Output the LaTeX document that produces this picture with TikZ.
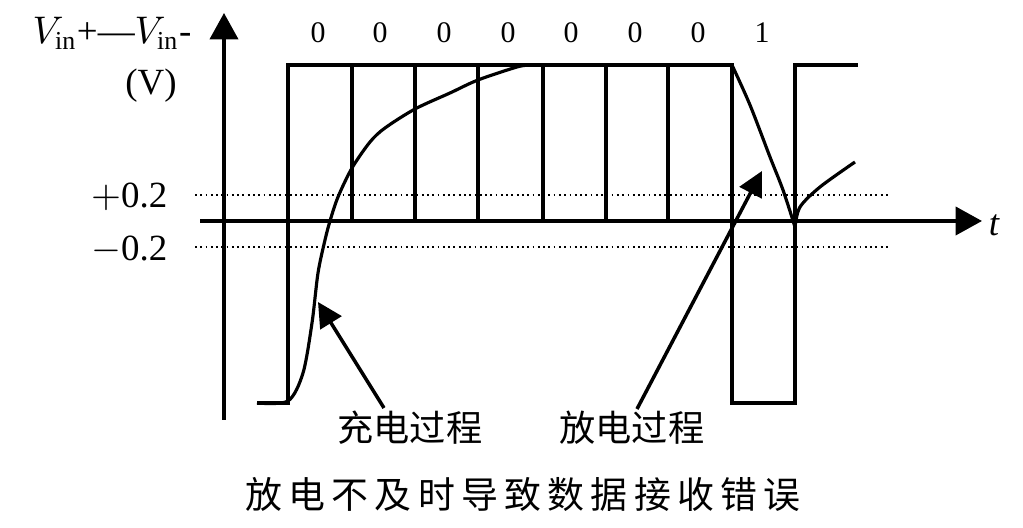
\documentclass[tikz,border=0pt]{standalone}
\usepackage{fontspec}
\setmainfont{Liberation Serif}
\newfontfamily\cjk{Noto Sans CJK SC}
\newfontfamily\cjkwide[LetterSpace=17]{Noto Sans CJK SC}
\usetikzlibrary{arrows.meta}

\begin{document}
\begin{tikzpicture}[x=0.01cm,y=-0.01cm,
  axis/.style={line width=1pt,-{Triangle[width=8pt,length=7.5pt]}},
  wave/.style={line width=0.9pt},
  level/.style={densely dotted,line width=0.5pt},
  bit/.style={font=\fontsize{8.5}{10}\selectfont,inner sep=0pt},
  ticklabel/.style={font=\fontsize{10.5}{12}\selectfont,anchor=east,inner sep=0pt},
  pointer/.style={line width=1pt,-{Triangle[width=7pt,length=7pt]}},
  cjklabel/.style={font=\fontsize{10.3}{12}\selectfont\cjk,inner sep=0pt}]
  \useasboundingbox (0,0) rectangle (1023,528);
  \draw[axis] (224,420) -- (224,13);
  \draw[axis] (200,221) -- (982,221);
  \node[font=\fontsize{10.5}{12}\selectfont\itshape,inner sep=0pt] (tlabel) at (994,225) {t};
  \node[font=\fontsize{10.5}{12}\selectfont,inner sep=0pt] (vlabel) at (112,33)
    {$V_{\mathrm{in}}$+---$V_{\mathrm{in}}$-};
  \node[font=\fontsize{10.5}{12}\selectfont,inner sep=0pt] (unit) at (151,86) {(V)};
  \node[ticklabel] (plus) at (168,197) {$+$0.2};
  \node[ticklabel] (minus) at (168,250) {$-$0.2};
  \draw[level] (195,195) -- (888,195);
  \draw[level] (195,247) -- (888,247);
  \draw[wave] (257,403) -- (288,403) -- (288,65) -- (732,65) -- (732,403)
    -- (795,403) -- (795,65) -- (858,65);
  \foreach \x in {352,415,478,543,606,668}
    \draw[wave] (\x,221) -- (\x,65);
  \foreach \x/\b [count=\i] in {318/0,380/0,444/0,508/0,571/0,635/0,698/0,762/1}
    \node[bit] (bit\i) at (\x,33) {\b};
  \draw[wave] plot[smooth] coordinates {(257,403) (288,401) (303,373) (312,323)
    (318,273) (325,240) (330,221) (338,197) (352,168) (370,142) (385,128)
    (415,109) (450,93) (478,80) (517,67) (530,65)} -- (732,65);
  \draw[wave] plot[smooth] coordinates {(732,65) (750,105) (770,157) (783,190) (795,227)};
  \draw[wave] plot[smooth] coordinates {(795,227) (800,207) (820,187) (855,162)};
  \node[cjklabel] (charge) at (410,428) {充电过程};
  \node[cjklabel] (discharge) at (632,428) {放电过程};
  \node[font=\fontsize{10.5}{12}\selectfont\cjkwide,inner sep=0pt] (caption) at (523,494)
    {放电不及时导致数据接收错误};
  \coordinate (chargefoot) at (384,408);
  \coordinate (chargetip) at (318,302);
  \coordinate (dischargefoot) at (637,409);
  \coordinate (dischargetip) at (762,171);
  \draw[pointer] (chargefoot) -- (chargetip);
  \draw[pointer] (dischargefoot) -- (dischargetip);
\end{tikzpicture}
\end{document}
